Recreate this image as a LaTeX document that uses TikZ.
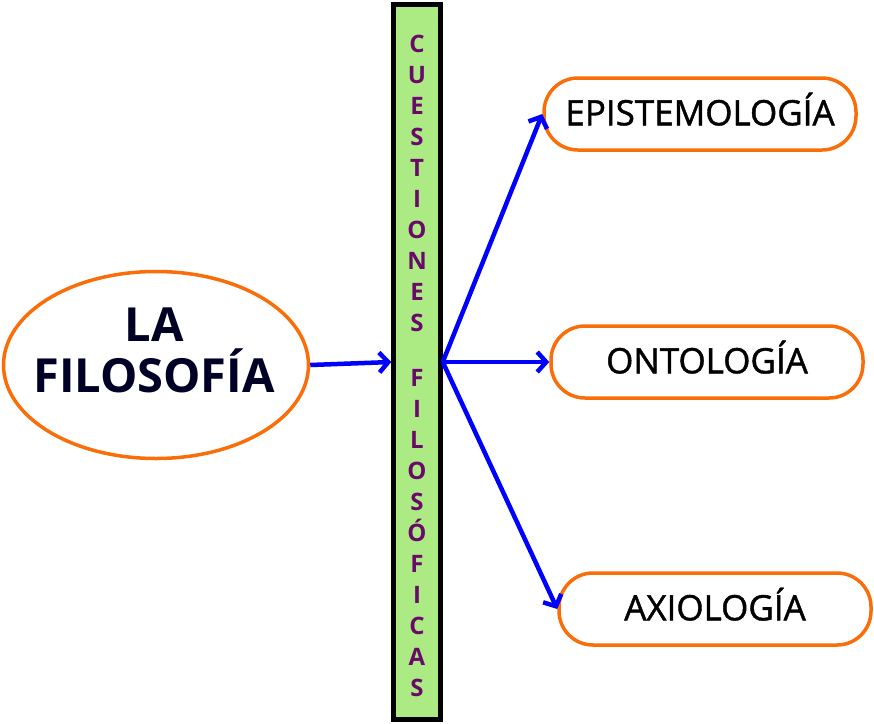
\documentclass[tikz,border=0pt]{standalone}
\usepackage{fontspec}
\setmainfont{Open Sans}
\newfontfamily\mapfont[FakeBold=1.2]{Open Sans}
\usetikzlibrary{positioning,chains,shapes.geometric,arrows.meta}
\definecolor{mapOrange}{RGB}{250,110,10}
\definecolor{barGreen}{RGB}{172,234,132}
\definecolor{letterPurple}{RGB}{105,10,105}
\tikzset{
	concept map/.style={
		x=1pt,y=-1pt,
		link/.style={
			draw=blue,
			line width=4.5pt,
			-{Straight Barb[length=9pt,width=20pt]}
		}
	},
	main idea/.style={
		ellipse,
		draw=mapOrange,
		line width=3.5pt,
		minimum width=305pt,
		minimum height=187pt
	},
	main idea text/.style={
		align=center,
		text=black!85!blue,
		font=\fontsize{47}{51}\selectfont\bfseries
	},
	branch/.style={
		rectangle,
		rounded corners=34pt,
		draw=mapOrange,
		line width=3.5pt,
		minimum width=312pt,
		minimum height=72pt,
		text depth=10pt, % lifts the word above the middle
		font=\mapfont\fontsize{35}{40}\selectfont
	},
	question bar/.style={
		rectangle,
		draw=black,
		fill=barGreen,
		line width=4.5pt,
		minimum width=47pt,
		minimum height=715pt
	},
	letter/.style={
		on chain,
		inner sep=0pt,
		minimum height=30.6pt,
		text height=17pt,text depth=0pt, % same baseline for every letter
		text=letterPurple,
		font=\fontsize{24}{24}\selectfont\bfseries
	}
}

\begin{document}
\begin{tikzpicture}[concept map]
	\useasboundingbox (0,0) rectangle (874,723);
	% central bar
	\node[question bar] (bar) at (417,362) {};
	\begin{scope}[start chain=going below,node distance=0pt]
		\node[letter] at (417,44) {C};
		\node[letter] {U};
		\node[letter] {E};
		\node[letter] {S};
		\node[letter] {T};
		\node[letter] {I};
		\node[letter] {O};
		\node[letter] {N};
		\node[letter] {E};
		\node[letter] {S};
		\node[letter,yshift=-24pt] {F};
		\node[letter] {I};
		\node[letter] {L};
		\node[letter] {O};
		\node[letter] {S};
		\node[letter] {Ó};
		\node[letter] {F};
		\node[letter] {I};
		\node[letter] {C};
		\node[letter] {A};
		\node[letter] {S};
	\end{scope}
	% main idea
	\node[main idea] (filosofia) at (156,365) {};
	\node[main idea text] (filosofia text) at (154,350) {LA\\FILOSOFÍA};
	% branches
	\node[branch] (epistemologia) at (700,114) {EPISTEMOLOGÍA};
	\node[branch] (ontologia) at (707,362) {ONTOLOGÍA};
	\node[branch] (axiologia) at (715,609) {AXIOLOGÍA};
	% links
	\draw[link] (filosofia.east) -- (bar.west);
	\draw[link] (bar.east) -- (epistemologia.west);
	\draw[link] (bar.east) -- (ontologia.west);
	\draw[link] (bar.east) -- (axiologia.west);
\end{tikzpicture}
\end{document}
